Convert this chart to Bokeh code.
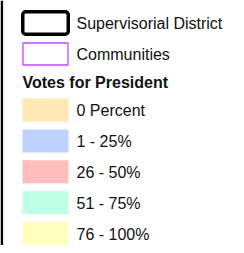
from bokeh.plotting import figure
from bokeh.models import Range1d
from bokeh.core.properties import value
from bokeh.embed import file_html
from bokeh.resources import INLINE

# Legend content
outline_labels = ["Supervisorial District", "Communities"]
outline_colors = ["#000000", "#cc44ff"]
outline_widths = [3.5, 1.3]
outline_radius = [3, 0]
legend_title = "Votes for President"
class_labels = ["0 Percent", "1 - 25%", "26 - 50%", "51 - 75%", "76 - 100%"]
class_colors = ["#ffe8b4", "#bed2ff", "#ffbebe", "#beffe8", "#ffffbe"]

FONT = "Liberation Sans"
FS = "16px"

p = figure(width=236, height=245, output_backend="svg", toolbar_location=None,
           x_range=Range1d(0, 236), y_range=Range1d(245, 0), min_border=0)
p.axis.visible = False
p.grid.visible = False
p.outline_line_color = None
p.background_fill_color = "white"
p.border_fill_color = "white"

# left border line of the legend panel
p.segment(x0=[1.3], y0=[0], x1=[1.3], y1=[246], line_color="black", line_width=2.6)

# outline entries
for i in range(len(outline_labels)):
    p.rect(x=[45], y=[22.5 + i * 31], width=[45.5 - i * 0.5], height=[22.5 - i * 0.5],
           fill_color="white", line_color=outline_colors[i], line_width=outline_widths[i],
           border_radius=outline_radius[i])
p.text(x=[76] * len(outline_labels), y=[23 + i * 31 for i in range(len(outline_labels))],
       text=outline_labels, text_font=value(FONT), text_font_size=FS,
       text_color="#111111", text_baseline="middle")

# title
p.text(x=[22], y=[82], text=[legend_title], text_font=value(FONT),
       text_font_size=FS, text_font_style="bold", text_color="#111111",
       text_baseline="middle")

# class swatches
tops = [98 + i * 30.9 for i in range(len(class_labels))]
p.quad(left=[22] * len(class_labels), right=[68] * len(class_labels),
       top=tops, bottom=[t + 23 for t in tops], fill_color=class_colors, line_color=None)
p.text(x=[76] * len(class_labels), y=[t + 12 for t in tops], text=class_labels,
       text_font=value(FONT), text_font_size=FS, text_color="#111111",
       text_baseline="middle")

open("out.html", "w").write(file_html(p, INLINE))
